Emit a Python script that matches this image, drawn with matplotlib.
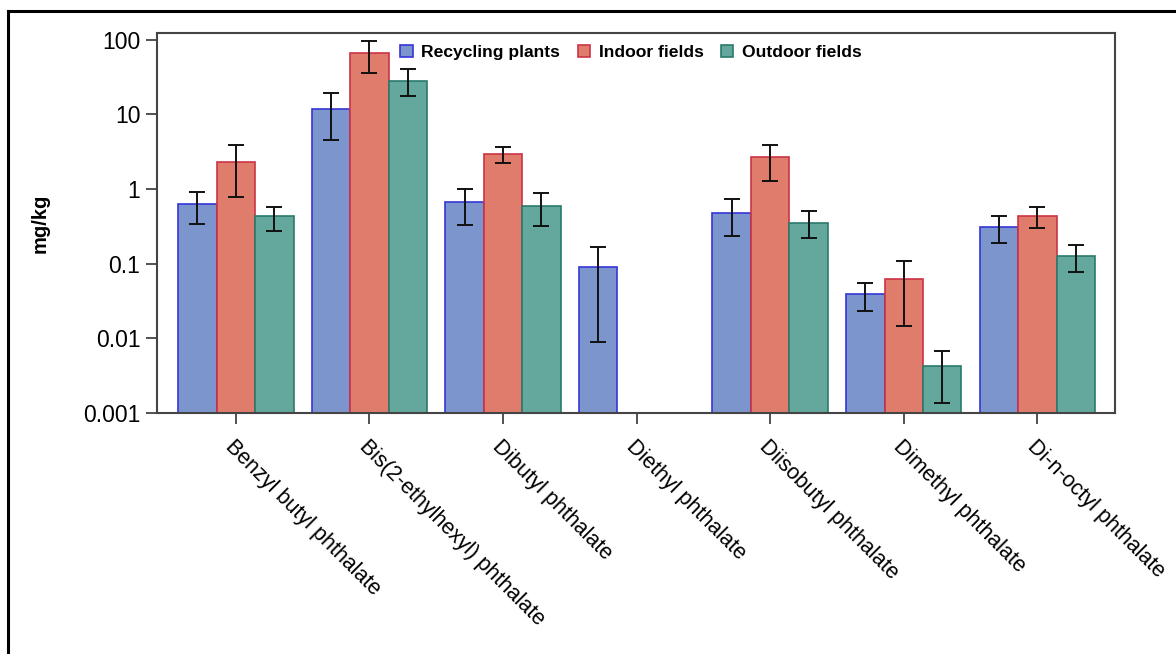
import numpy as np
import matplotlib
matplotlib.use('Agg')
import matplotlib.pyplot as plt
from matplotlib.lines import Line2D

plt.rcParams['font.family'] = ['Liberation Sans', 'DejaVu Sans']

compounds = ['Benzyl butyl phthalate', 'Bis(2-ethylhexyl) phthalate', 'Dibutyl phthalate',
             'Diethyl phthalate', 'Diisobutyl phthalate', 'Dimethyl phthalate', 'Di-n-octyl phthalate']
groups = ['Recycling plants', 'Indoor fields', 'Outdoor fields']

# mean values (mg/kg), nan = not detected
recycling = [0.63, 11.9, 0.67, 0.091, 0.48, 0.039, 0.31]
indoor = [2.32, 67, 2.95, np.nan, 2.7, 0.062, 0.43]
outdoor = [0.44, 28.4, 0.60, np.nan, 0.355, 0.0041, 0.127]

# error bar ends (lower, upper)
recycling_lo = [0.34, 4.55, 0.33, 0.0089, 0.235, 0.023, 0.19]
recycling_hi = [0.91, 19.5, 0.99, 0.168, 0.74, 0.055, 0.44]
indoor_lo = [0.79, 36, 2.2, np.nan, 1.29, 0.0147, 0.30]
indoor_hi = [3.9, 97, 3.7, np.nan, 3.9, 0.11, 0.57]
outdoor_lo = [0.27, 17.4, 0.32, np.nan, 0.22, 0.00137, 0.078]
outdoor_hi = [0.58, 40, 0.89, np.nan, 0.51, 0.0067, 0.18]

fills = ['#7C95CD', '#E07C6C', '#63A79D']
edges = ['#3535D8', '#CC3345', '#2A7A6C']

fig = plt.figure(figsize=(11.76, 6.54), dpi=100)
ax = fig.add_axes([0.1335, 0.3685, 0.8145, 0.581])

x = np.arange(len(compounds))
width = 0.288
series = [(recycling, recycling_lo, recycling_hi),
          (indoor, indoor_lo, indoor_hi),
          (outdoor, outdoor_lo, outdoor_hi)]

for i, (vals, lo, hi) in enumerate(series):
    vals = np.array(vals, dtype=float)
    lo = np.array(lo, dtype=float)
    hi = np.array(hi, dtype=float)
    pos = x + (i - 1) * width
    ax.bar(pos, vals, width, bottom=0.0001, color=fills[i], edgecolor=edges[i],
           linewidth=1.2, label=groups[i], zorder=2)
    ok = ~np.isnan(vals)
    yerr = np.vstack([vals[ok] - lo[ok], hi[ok] - vals[ok]])
    ax.errorbar(pos[ok], vals[ok], yerr=yerr, fmt='none', ecolor='#111111',
                elinewidth=1.4, capsize=6, capthick=1.4, zorder=3)

ax.set_yscale('log')
ax.set_ylim(0.001, 123)
ax.set_xlim(-0.59, 6.58)
ax.set_yticks([0.001, 0.01, 0.1, 1, 10, 100])
ax.set_yticklabels(['0.001', '0.01', '0.1', '1', '10', '100'])
ax.yaxis.set_minor_locator(matplotlib.ticker.NullLocator())
ax.set_xticks(x)
ax.set_xticklabels(compounds, rotation=-45, ha='left', rotation_mode='anchor')
ax.tick_params(axis='both', direction='out', length=8, width=1.2, color='#333333', pad=4)
ax.tick_params(axis='y', labelsize=16.5)
ax.tick_params(axis='x', labelsize=15.5, pad=9)
for s in ax.spines.values():
    s.set_color('#444444')
    s.set_linewidth(1.5)

ax.set_ylabel('mg/kg', fontsize=14.5, fontweight='bold', labelpad=24)

leg = ax.legend(loc='upper center', bbox_to_anchor=(0.495, 1.01), ncol=3, frameon=False,
                prop={'weight': 'bold', 'size': 12.6}, handlelength=0.7, handleheight=0.7,
                handletextpad=0.5, columnspacing=1.0)

# outer frame
fig.add_artist(Line2D([0.0068, 0.0068], [0, 0.983], color='black', lw=2.2))
fig.add_artist(Line2D([0.0068, 1], [0.983, 0.983], color='black', lw=2.2))

fig.savefig('out.png', dpi=100)
